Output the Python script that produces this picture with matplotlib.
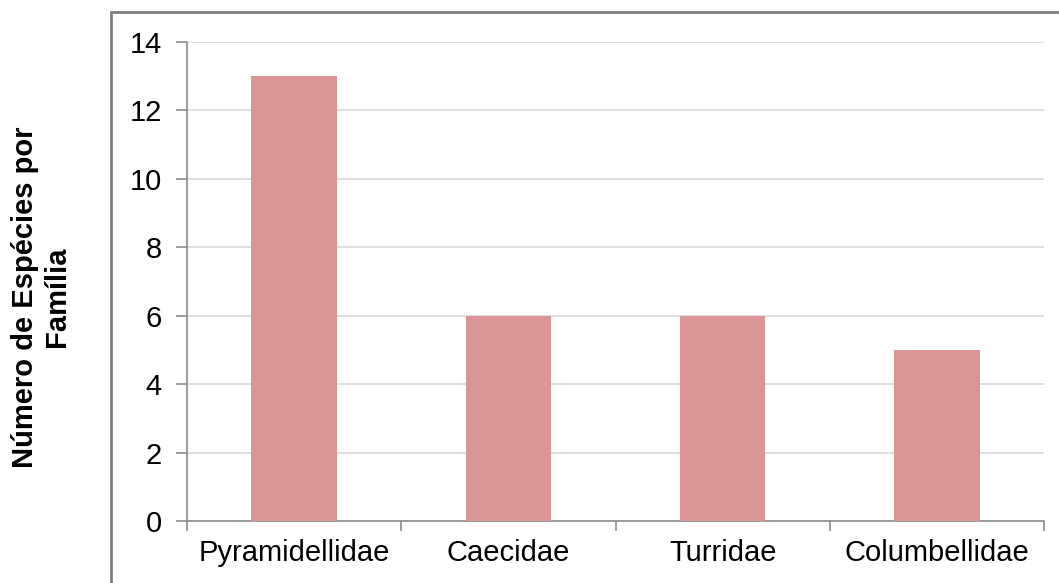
import matplotlib.pyplot as plt
from matplotlib.patches import Rectangle

plt.rcParams['font.family'] = ['Liberation Sans', 'DejaVu Sans']

# species count per family
familias = ['Pyramidellidae', 'Caecidae', 'Turridae', 'Columbellidae']
especies = [13, 6, 6, 5]

fig = plt.figure(figsize=(10.59, 5.83), dpi=100)
W, H = 1059, 583
ax = fig.add_axes([187 / W, 1 - 521 / H, (1044 - 187) / W, (521 - 42) / H])

x = range(len(familias))
ax.bar(x, especies, width=0.4, color='#d99694', zorder=3)

ax.set_xlim(-0.5, len(familias) - 0.5)
ax.set_ylim(0, 14)
ax.set_yticks(range(0, 15, 2))
ax.set_xticks(x)
ax.set_xticklabels(familias)
ax.set_xticks([i - 0.5 for i in range(len(familias) + 1)], minor=True)

ax.grid(axis='y', color='#d9d9d9', linewidth=1.2, zorder=0)
for s in ['top', 'right']:
    ax.spines[s].set_visible(False)
for s in ['left', 'bottom']:
    ax.spines[s].set_color('#8c8c8c')
    ax.spines[s].set_linewidth(1.2)

ax.tick_params(axis='y', length=8, color='#8c8c8c', width=1.2, labelsize=21, pad=10)
ax.tick_params(axis='x', which='major', length=0, labelsize=21, pad=13)
ax.tick_params(axis='x', which='minor', length=7, color='#8c8c8c', width=1.2)

fig.text(41 / W, 1 - 297 / H, 'Número de Espécies por\nFamília', rotation=90,
         ha='center', va='center', fontsize=21, fontweight='bold',
         multialignment='center', linespacing=1.15)

# gray frame around the chart area
fig.patches.append(Rectangle((111 / W, -0.05), 1.0, 1 - 12 / H + 0.05,
                             transform=fig.transFigure, fill=False,
                             edgecolor='#7f7f7f', linewidth=2))

fig.savefig('out.png', dpi=100)
